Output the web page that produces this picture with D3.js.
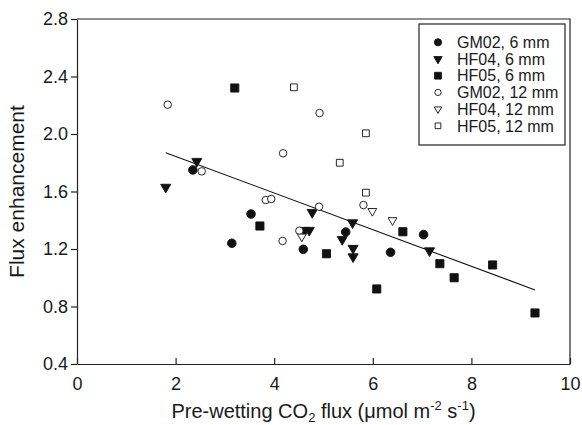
<!DOCTYPE html>
<html>
<head>
<meta charset="utf-8">
<script src="https://cdn.jsdelivr.net/npm/d3@7"></script>
<style>
  body { margin: 0; background: #fff; }
  svg { font-family: "Liberation Sans", Arial, sans-serif; }
</style>
</head>
<body>
<svg id="chart" width="582" height="425"></svg>
<script>
// values
const gm02_6 = [[2.35,1.75],[3.53,1.443],[3.14,1.24],[4.59,1.198],[5.45,1.318],[6.36,1.177],[7.03,1.30]];
const hf04_6 = [[1.80,1.63],[2.43,1.81],[4.62,1.33],[4.71,1.33],[4.77,1.455],[5.38,1.267],[5.59,1.383],[5.60,1.205],[5.60,1.146],[7.15,1.188]];
const hf05_6 = [[3.20,2.32],[3.71,1.36],[5.06,1.167],[6.08,0.922],[6.61,1.32],[7.36,1.098],[7.65,1.0],[8.43,1.089],[9.29,0.755]];
const gm02_12 = [[1.84,2.204],[4.92,2.146],[4.18,1.866],[2.53,1.74],[3.83,1.541],[3.94,1.548],[4.91,1.494],[4.51,1.327],[4.17,1.256],[5.81,1.506]];
const hf04_12 = [[4.56,1.286],[5.99,1.464],[6.40,1.40]];
const hf05_12 = [[4.40,2.325],[5.33,1.80],[5.86,2.005],[5.86,1.592]];
const fitLine = [[1.80,1.87],[9.29,0.915]];

const seriesNames = ["GM02, 6 mm","HF04, 6 mm","HF05, 6 mm","GM02, 12 mm","HF04, 12 mm","HF05, 12 mm"];
const xTicks = [0,2,4,6,8,10];
const yTicks = [0.4,0.8,1.2,1.6,2.0,2.4,2.8];

const svg = d3.select("#chart");
const margin = {left: 77, right: 12, top: 19, bottom: 61};
const width = 582 - margin.left - margin.right,
      height = 425 - margin.top - margin.bottom;

const x = d3.scaleLinear().domain([0,10]).range([0,width]);
const y = d3.scaleLinear().domain([0.4,2.8]).range([height,0]);

const g = svg.append("g").attr("transform", `translate(${margin.left},${margin.top})`);

// frame top + right
g.append("path")
  .attr("d", `M0,0H${width}V${height}`)
  .attr("fill","none").attr("stroke","#222").attr("stroke-width",1.2);

const xAxis = g.append("g")
  .attr("transform", `translate(0,${height})`)
  .call(d3.axisBottom(x).tickValues(xTicks).tickSize(-6).tickSizeOuter(0).tickPadding(13));
const yAxis = g.append("g")
  .call(d3.axisLeft(y).tickValues(yTicks).tickFormat(d3.format(".1f")).tickSize(6).tickSizeOuter(0).tickPadding(3));

[xAxis, yAxis].forEach(a => {
  a.select(".domain").attr("stroke","#222").attr("stroke-width",1.2);
  a.selectAll(".tick line").attr("stroke","#222").attr("stroke-width",1.2);
  a.selectAll("text").attr("font-size",18).attr("fill","#1a1a1a").attr("font-family","Liberation Sans, Arial, sans-serif");
});

// axis titles
const xt = svg.append("text")
  .attr("x", margin.left + width/2).attr("y", 418)
  .attr("text-anchor","middle").attr("font-size",20).attr("fill","#1a1a1a");
xt.append("tspan").text("Pre-wetting CO");
xt.append("tspan").attr("font-size",13).attr("dy",4).text("2");
xt.append("tspan").attr("dy",-4).text(" flux (μmol m");
xt.append("tspan").attr("font-size",13).attr("dy",-8).text("-2");
xt.append("tspan").attr("dy",8).text(" s");
xt.append("tspan").attr("font-size",13).attr("dy",-8).text("-1");
xt.append("tspan").attr("dy",8).text(")");

svg.append("text")
  .attr("transform", `translate(24,${margin.top + height/2}) rotate(-90)`)
  .attr("text-anchor","middle").attr("font-size",21).attr("fill","#1a1a1a")
  .text("Flux enhancement");

// regression line
g.append("path")
  .datum(fitLine)
  .attr("d", d3.line().x(d => x(d[0])).y(d => y(d[1])))
  .attr("fill","none").attr("stroke","#111").attr("stroke-width",1.1);

// markers
const styles = [
  {data: gm02_6,  type: d3.symbolCircle,   size: 58, fill: "#111", rot: 0},
  {data: hf04_6,  type: d3.symbolTriangle, size: 44, fill: "#111", rot: 180},
  {data: hf05_6,  type: d3.symbolSquare,   size: 66, fill: "#111", rot: 0},
  {data: gm02_12, type: d3.symbolCircle,   size: 44, fill: "#fff", rot: 0},
  {data: hf04_12, type: d3.symbolTriangle, size: 34, fill: "#fff", rot: 180},
  {data: hf05_12, type: d3.symbolSquare,   size: 46, fill: "#fff", rot: 0}
];

styles.forEach(s => {
  g.append("g").selectAll("path")
    .data(s.data)
    .enter().append("path")
    .attr("d", d3.symbol().type(s.type).size(s.size))
    .attr("transform", d => `translate(${x(d[0])},${y(d[1])}) rotate(${s.rot})`)
    .attr("fill", s.fill)
    .attr("stroke", "#111")
    .attr("stroke-width", 0.9);
});

// legend
const lg = svg.append("g").attr("transform", "translate(419,24)");
lg.append("rect")
  .attr("width",146).attr("height",121)
  .attr("fill","#fff").attr("stroke","#333").attr("stroke-width",1.3);

const item = lg.selectAll(".item")
  .data(styles)
  .enter().append("g")
  .attr("class","item")
  .attr("transform", (d,i) => `translate(19,${18.3 + i*16.7})`);

item.append("path")
  .attr("d", d => d3.symbol().type(d.type).size(d.size*0.7)())
  .attr("transform", d => `rotate(${d.rot})`)
  .attr("fill", d => d.fill)
  .attr("stroke","#111").attr("stroke-width",0.9);

item.append("text")
  .attr("x", 19).attr("dy","0.36em")
  .attr("font-size",16).attr("fill","#1a1a1a")
  .text((d,i) => seriesNames[i]);
</script>
</body>
</html>
